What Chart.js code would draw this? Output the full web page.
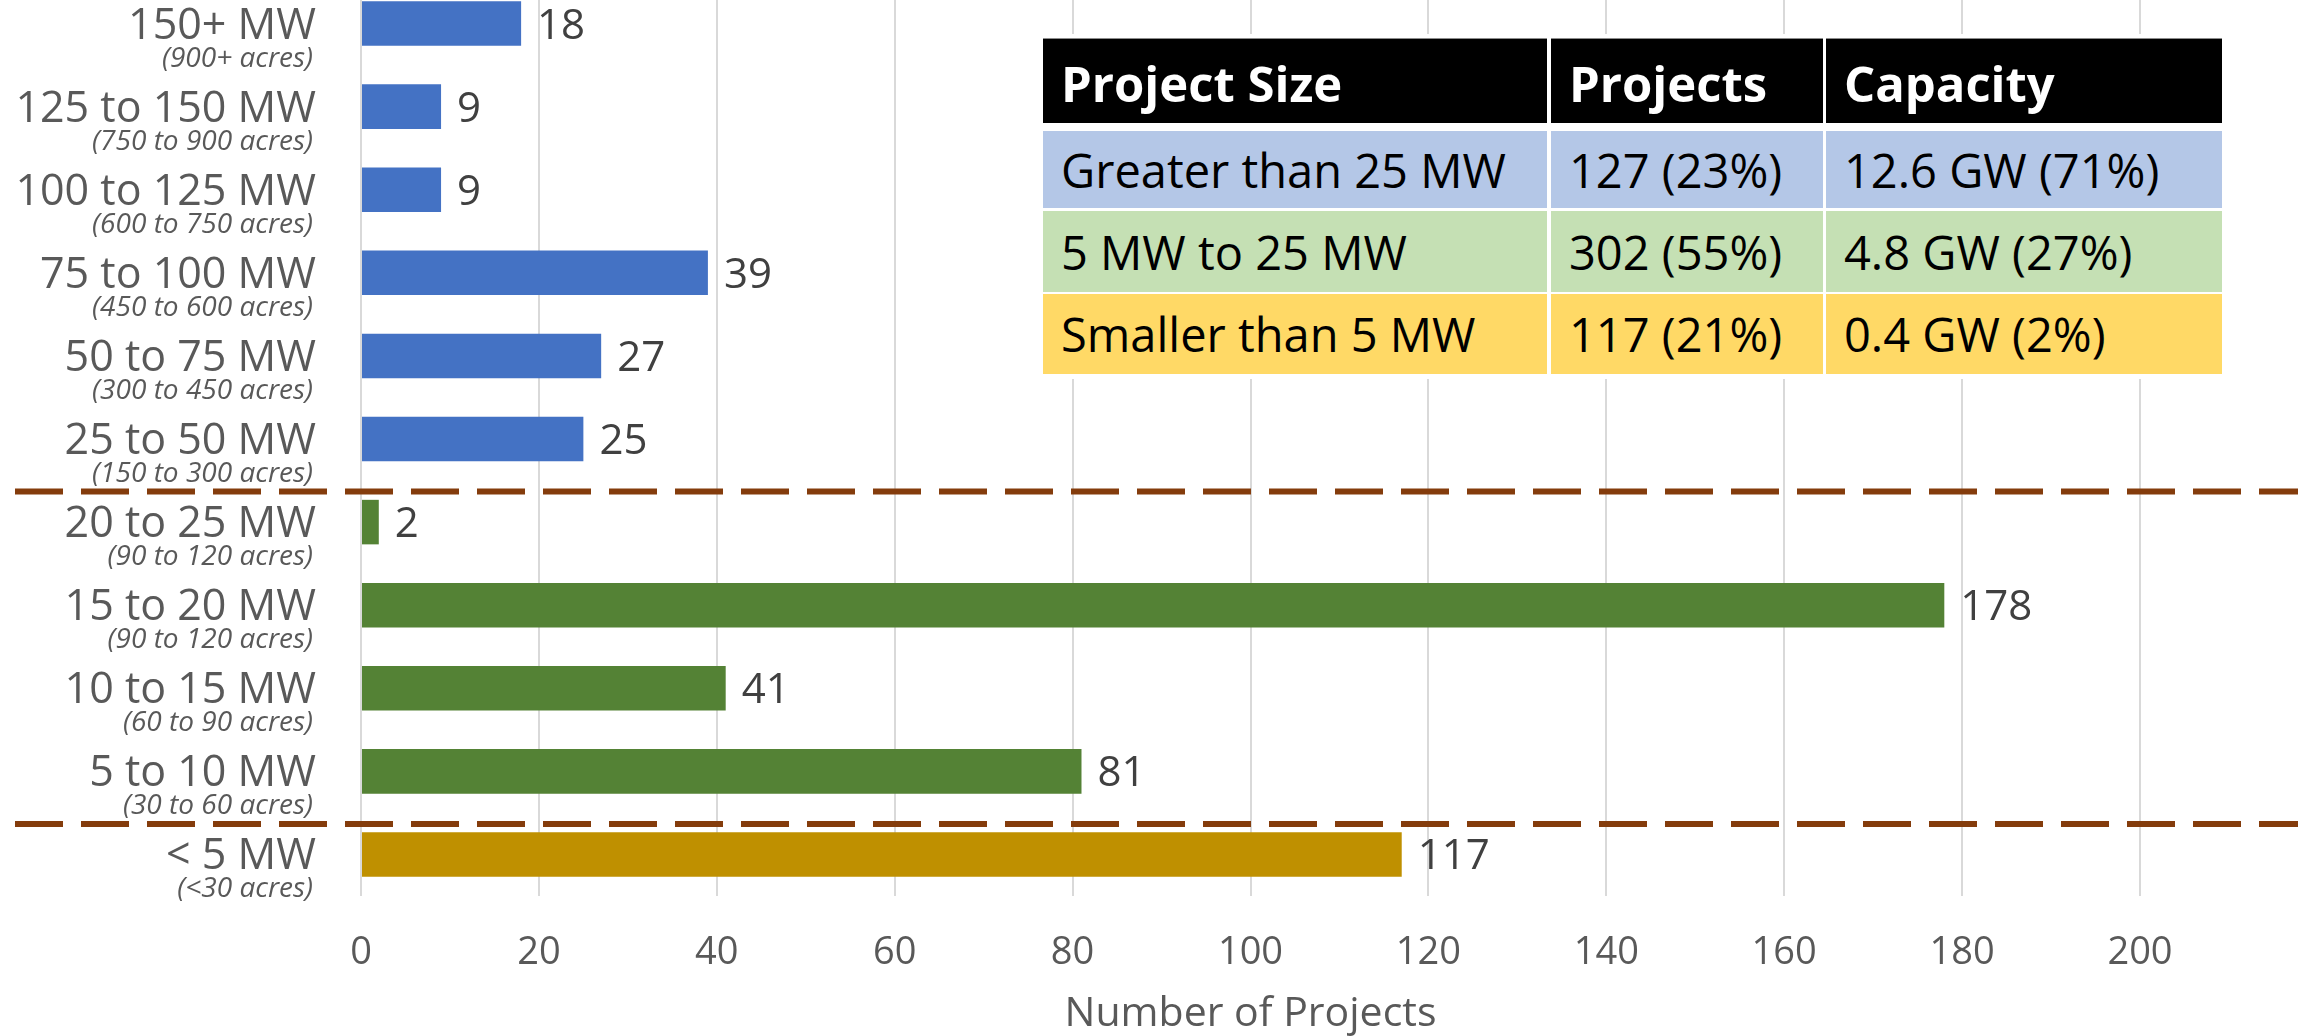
<!DOCTYPE html>
<html lang="en">
<head>
    <meta charset="UTF-8">
    <title>Solar Projects by Size</title>
    <script src="https://cdn.jsdelivr.net/npm/chart.js"></script>
    <style>
        html, body {
            margin: 0;
            padding: 0;
            background: #ffffff;
        }

        body {
            width: 2298px;
            height: 1036px;
            overflow: hidden;
            position: relative;
            font-family: 'Open Sans', sans-serif;
        }

        .chart-box {
            position: absolute;
            left: 0;
            top: -18px;
            width: 2298px;
            height: 1054px;
        }

        .table-back {
            position: absolute;
            left: 1039px;
            top: 34px;
            width: 1187px;
            height: 345px;
            background: #ffffff;
        }

        .cell {
            position: absolute;
            box-sizing: border-box;
            padding-left: 18px;
            display: flex;
            align-items: center;
            white-space: nowrap;
            font-size: 47px;
            color: #000000;
        }

        .cell.head {
            background: #000000;
            color: #ffffff;
            font-weight: bold;
            font-size: 49px;
            border-top: 1px solid #8c8c8c;
            padding-top: 4px;
        }
    </style>
</head>
<body>
    <div class="chart-box">
        <canvas id="sizeChart" width="2298" height="1054"></canvas>
    </div>
    <div class="table-back" id="tableBack"></div>

    <script>
        // Chart data
        const sizeLabels = ['150+ MW', '125 to 150 MW', '100 to 125 MW', '75 to 100 MW', '50 to 75 MW', '25 to 50 MW',
            '20 to 25 MW', '15 to 20 MW', '10 to 15 MW', '5 to 10 MW', '< 5 MW'];
        const acreLabels = ['(900+ acres)', '(750 to 900 acres)', '(600 to 750 acres)', '(450 to 600 acres)', '(300 to 450 acres)',
            '(150 to 300 acres)', '(90 to 120 acres)', '(90 to 120 acres)', '(60 to 90 acres)', '(30 to 60 acres)', '(<30 acres)'];
        const projectCounts = [18, 9, 9, 39, 27, 25, 2, 178, 41, 81, 117];
        const sizeGroups = ['large', 'large', 'large', 'large', 'large', 'large', 'mid', 'mid', 'mid', 'mid', 'small'];
        const xTicks = [0, 20, 40, 60, 80, 100, 120, 140, 160, 180, 200];

        // Summary table data
        const tableHeader = ['Project Size', 'Projects', 'Capacity'];
        const sizeClasses = ['Greater than 25 MW', '5 MW to 25 MW', 'Smaller than 5 MW'];
        const classProjects = ['127 (23%)', '302 (55%)', '117 (21%)'];
        const classCapacity = ['12.6 GW (71%)', '4.8 GW (27%)', '0.4 GW (2%)'];

        const groupColors = { large: '#4472C4', mid: '#548235', small: '#BF9000' };
        const rowColors = ['#B4C7E7', '#C5E0B4', '#FFD966'];
        const FONT = "'Open Sans', sans-serif";

        // Build the table
        function buildTable() {
            const colLeft = [1043, 1551, 1826];
            const colWidth = [504, 272, 396];
            const rowTop = [38, 131, 211, 294];
            const rowHeight = [85, 77, 81, 80];
            const rows = [tableHeader].concat(sizeClasses.map((s, i) => [s, classProjects[i], classCapacity[i]]));

            rows.forEach((row, r) => {
                row.forEach((text, c) => {
                    const div = document.createElement('div');
                    div.className = r === 0 ? 'cell head' : 'cell';
                    div.style.left = colLeft[c] + 'px';
                    div.style.top = rowTop[r] + 'px';
                    div.style.width = colWidth[c] + 'px';
                    div.style.height = rowHeight[r] + 'px';
                    if (r > 0) div.style.background = rowColors[r - 1];
                    div.textContent = text;
                    document.body.appendChild(div);
                });
            });
        }

        // Labels, values and dashed separators
        const annotatePlugin = {
            id: 'annotate',
            afterDatasetsDraw(chart) {
                const { ctx, scales: { x, y } } = chart;
                ctx.save();

                // dashed lines between size groups
                ctx.strokeStyle = '#843C0C';
                ctx.lineWidth = 6;
                ctx.setLineDash([48, 18]);
                for (let i = 0; i < sizeGroups.length - 1; i++) {
                    if (sizeGroups[i] !== sizeGroups[i + 1]) {
                        const yy = (y.getPixelForValue(i) + y.getPixelForValue(i + 1)) / 2 + 11;
                        ctx.beginPath();
                        ctx.moveTo(15, yy);
                        ctx.lineTo(chart.width, yy);
                        ctx.stroke();
                    }
                }
                ctx.setLineDash([]);

                ctx.textBaseline = 'alphabetic';
                sizeLabels.forEach((label, i) => {
                    const cy = y.getPixelForValue(i);

                    ctx.textAlign = 'right';
                    ctx.fillStyle = '#595959';
                    ctx.font = '43px ' + FONT;
                    ctx.fillText(label, y.right - 45, cy + 15);
                    ctx.font = 'italic 28px ' + FONT;
                    ctx.fillText(acreLabels[i], y.right - 48, cy + 43);

                    ctx.textAlign = 'left';
                    ctx.fillStyle = '#404040';
                    ctx.font = '42px ' + FONT;
                    ctx.fillText(String(projectCounts[i]), x.getPixelForValue(projectCounts[i]) + 16, cy + 15);
                });
                ctx.restore();
            }
        };

        function drawChart() {
            const ctx = document.getElementById('sizeChart').getContext('2d');
            new Chart(ctx, {
                type: 'bar',
                data: {
                    labels: sizeLabels,
                    datasets: [{
                        data: projectCounts,
                        backgroundColor: sizeGroups.map(g => groupColors[g]),
                        barPercentage: 0.536,
                        categoryPercentage: 1
                    }]
                },
                options: {
                    indexAxis: 'y',
                    responsive: false,
                    animation: false,
                    layout: { padding: { left: 0, right: 158, top: 0, bottom: 0 } },
                    plugins: {
                        legend: { display: false },
                        tooltip: { enabled: false }
                    },
                    scales: {
                        x: {
                            min: 0,
                            max: 200,
                            afterBuildTicks: scale => {
                                scale.ticks = xTicks.map(v => ({ value: v }));
                            },
                            ticks: {
                                color: '#595959',
                                font: { family: FONT, size: 38 },
                                padding: 34
                            },
                            grid: { color: '#D9D9D9', lineWidth: 2, drawTicks: false },
                            border: { display: false },
                            title: {
                                display: true,
                                text: 'Number of Projects',
                                color: '#595959',
                                font: { family: FONT, size: 41 },
                                padding: { top: 0, bottom: -3 }
                            },
                            afterFit: scale => { scale.height = 140; }
                        },
                        y: {
                            ticks: { display: false },
                            grid: { display: false },
                            border: { display: false },
                            afterFit: scale => { scale.width = 361; }
                        }
                    }
                },
                plugins: [annotatePlugin]
            });
        }

        buildTable();
        drawChart();
    </script>
</body>
</html>
